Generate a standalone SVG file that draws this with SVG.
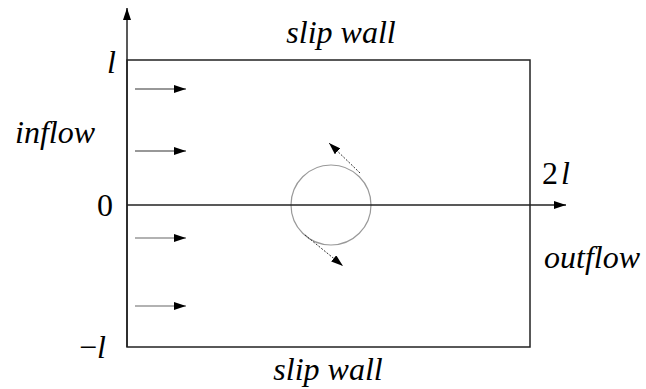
<svg xmlns="http://www.w3.org/2000/svg" width="646" height="389" viewBox="0 0 646 389">
<style>
.ax{stroke:#222;stroke-width:1.5;fill:none}
.ar{stroke:#333;stroke-width:1.2;fill:none}
.ag{stroke:#999;stroke-width:1.4;fill:none}
.dt{stroke:#333;stroke-width:1;stroke-dasharray:2 1.5;fill:none}
</style>
<defs>
<marker id="h" viewBox="0 0 12 8" refX="12" refY="4" markerWidth="12" markerHeight="8" markerUnits="userSpaceOnUse" orient="auto">
<path d="M0,0 L12,4 L0,8 Z" fill="#000"/>
</marker>
</defs>
<g id="domain">
<rect x="127" y="60" width="403" height="287" class="ax"/>
</g>
<g id="cylinder">
<circle cx="331" cy="205" r="40" fill="none" stroke="#999" stroke-width="1.2"/>
</g>
<g id="connectors">
<line x1="127" y1="347" x2="127" y2="8" class="ax" marker-end="url(#h)"/>
<line x1="127" y1="205" x2="566" y2="205" class="ax" marker-end="url(#h)"/>
<line x1="135" y1="89" x2="186" y2="89" class="ar" marker-end="url(#h)"/>
<line x1="135" y1="151" x2="186" y2="151" class="ar" marker-end="url(#h)"/>
<line x1="135" y1="238" x2="186" y2="238" class="ag" marker-end="url(#h)"/>
<line x1="135" y1="306" x2="186" y2="306" class="ag" marker-end="url(#h)"/>
<line x1="360" y1="173" x2="329" y2="143" class="dt" marker-end="url(#h)"/>
<line x1="305" y1="235" x2="343" y2="266" class="dt" marker-end="url(#h)"/>
</g>
<g id="labels">
<text font-family="Liberation Serif" font-size="32" font-style="italic" x="341" y="43" text-anchor="middle">slip wall</text>
<text font-family="Liberation Serif" font-size="32" font-style="italic" x="328" y="380" text-anchor="middle">slip wall</text>
<text font-family="Liberation Serif" font-size="32" font-style="italic" x="55" y="143" text-anchor="middle">inflow</text>
<text font-family="Liberation Serif" font-size="32" font-style="italic" x="592" y="268" text-anchor="middle">outflow</text>
<text font-family="Liberation Serif" font-size="32" font-style="italic" x="107" y="73">l</text>
<text font-family="Liberation Serif" font-size="32" x="97" y="216">0</text>
<text font-family="Liberation Serif" font-size="32" x="79" y="358">−<tspan font-style="italic">l</tspan></text>
<text font-family="Liberation Serif" font-size="32" x="542" y="184">2<tspan font-style="italic" dx="3">l</tspan></text>
</g>
</svg>
